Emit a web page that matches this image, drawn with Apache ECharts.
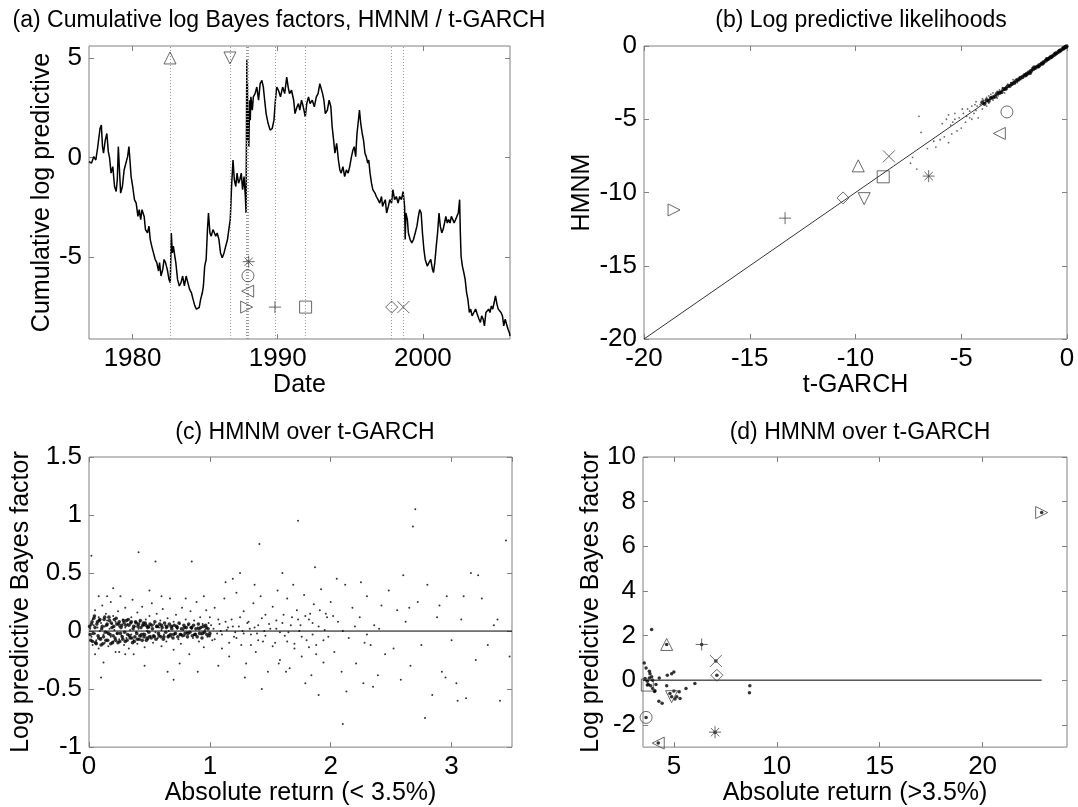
<!DOCTYPE html>
<html lang="en">
  <head>
    <meta charset="utf-8">
    <title>HMNM vs t-GARCH</title>
    <style>
      html, body { margin: 0; padding: 0; background: #fff; }
      #chart { width: 1078px; height: 807px; }
    </style>
  </head>
  <body>
    <div id="chart"></div>

    <script src="https://cdn.jsdelivr.net/npm/echarts@6/dist/echarts.min.js"></script>
    <script>
      // ---- data ----
      // (a) cumulative log Bayes factor over time [year, value]
      var cumLogBF = [
        [1977.00,-0.20],[1977.17,-0.28],[1977.33,0.05],[1977.47,-0.12],[1977.59,0.47],[1977.76,1.46],[1977.85,1.63],[1977.93,0.55],
        [1978.00,0.22],[1978.12,0.88],[1978.23,1.21],[1978.33,0.30],[1978.42,-0.03],[1978.52,-0.78],[1978.64,-0.45],[1978.76,-1.45],
        [1978.87,-1.70],[1978.95,-1.11],[1979.02,0.55],[1979.11,-0.78],[1979.18,-1.78],[1979.30,-1.45],[1979.42,-0.62],[1979.54,-0.28],
        [1979.66,0.05],[1979.75,0.55],[1979.82,-0.12],[1979.90,-0.95],[1980.01,-1.45],[1980.13,-2.11],[1980.25,-2.28],[1980.37,-2.95],
        [1980.46,-2.61],[1980.56,-3.11],[1980.65,-2.61],[1980.80,-2.95],[1980.89,-3.61],[1981.03,-3.78],[1981.13,-3.44],[1981.22,-4.11],
        [1981.32,-4.44],[1981.44,-4.78],[1981.56,-5.11],[1981.67,-5.27],[1981.79,-5.69],[1981.86,-5.27],[1981.96,-5.94],[1982.08,-5.61],
        [1982.17,-5.11],[1982.27,-5.27],[1982.39,-5.61],[1982.51,-6.11],[1982.60,-6.27],[1982.67,-3.78],[1982.74,-4.78],[1982.81,-4.44],
        [1982.91,-4.94],[1982.98,-5.27],[1983.10,-6.11],[1983.22,-6.44],[1983.34,-6.27],[1983.45,-5.94],[1983.57,-6.44],[1983.69,-5.94],
        [1983.81,-6.27],[1983.93,-6.61],[1984.05,-6.77],[1984.17,-7.11],[1984.29,-7.44],[1984.40,-7.60],[1984.52,-7.69],[1984.59,-7.52],
        [1984.69,-7.11],[1984.81,-6.77],[1984.88,-6.44],[1984.97,-5.44],[1985.07,-5.11],[1985.16,-3.61],[1985.23,-2.78],[1985.33,-3.78],
        [1985.42,-3.94],[1985.54,-3.61],[1985.64,-3.78],[1985.73,-3.94],[1985.83,-3.78],[1985.95,-4.11],[1986.06,-4.78],[1986.18,-5.03],
        [1986.30,-4.78],[1986.42,-4.44],[1986.54,-4.11],[1986.63,-3.61],[1986.73,-3.11],[1986.82,-1.45],[1986.92,-0.12],[1987.01,-1.11],
        [1987.11,-1.45],[1987.20,-0.78],[1987.30,-1.28],[1987.39,-1.11],[1987.49,-0.78],[1987.58,-1.61],[1987.68,-0.95],[1987.77,-1.95],
        [1987.82,-2.78],[1987.84,-2.78],[1987.87,4.88],[1987.89,1.21],[1987.91,3.71],[1987.94,0.88],[1987.96,2.38],[1988.01,0.55],
        [1988.06,2.88],[1988.11,1.88],[1988.15,3.05],[1988.25,2.38],[1988.32,3.05],[1988.44,3.21],[1988.56,3.54],[1988.68,2.88],
        [1988.79,3.71],[1988.91,3.88],[1989.01,3.54],[1989.10,2.88],[1989.20,2.21],[1989.34,1.71],[1989.48,1.38],[1989.62,1.46],
        [1989.74,1.88],[1989.84,2.88],[1989.93,3.54],[1990.05,3.38],[1990.19,3.05],[1990.34,3.54],[1990.48,3.21],[1990.62,4.04],
        [1990.72,3.54],[1990.81,3.21],[1990.95,3.38],[1991.10,2.88],[1991.19,2.21],[1991.33,2.55],[1991.43,2.71],[1991.52,2.38],
        [1991.64,2.88],[1991.76,2.55],[1991.90,2.05],[1992.00,2.71],[1992.12,3.05],[1992.23,2.71],[1992.38,2.88],[1992.52,2.55],
        [1992.66,3.05],[1992.78,3.21],[1992.90,3.71],[1992.99,3.79],[1993.09,3.21],[1993.18,2.88],[1993.28,2.21],[1993.42,2.38],
        [1993.54,2.88],[1993.66,2.55],[1993.75,1.55],[1993.85,0.88],[1993.94,0.22],[1994.06,0.72],[1994.18,-0.12],[1994.28,-0.62],
        [1994.37,-0.78],[1994.49,-0.45],[1994.61,-0.95],[1994.73,-0.62],[1994.85,-0.78],[1994.96,-0.45],[1995.08,0.05],[1995.18,0.38],
        [1995.27,0.55],[1995.37,0.05],[1995.46,1.21],[1995.56,1.88],[1995.63,2.38],[1995.72,1.71],[1995.82,1.21],[1995.91,0.88],
        [1996.01,0.22],[1996.10,0.05],[1996.20,-0.28],[1996.27,-0.12],[1996.36,-0.78],[1996.46,-1.28],[1996.55,-1.61],[1996.70,-1.78],
        [1996.79,-1.95],[1996.91,-2.11],[1997.03,-2.28],[1997.15,-1.95],[1997.22,-2.45],[1997.31,-2.28],[1997.41,-2.11],[1997.50,-2.78],
        [1997.62,-2.45],[1997.72,-2.11],[1997.84,-2.28],[1997.93,-1.61],[1998.05,-2.11],[1998.17,-1.95],[1998.29,-2.28],[1998.40,-1.95],
        [1998.52,-2.11],[1998.64,-1.70],[1998.74,-2.45],[1998.78,-4.11],[1998.83,-2.78],[1998.93,-3.11],[1999.00,-3.78],[1999.12,-4.11],
        [1999.24,-4.28],[1999.35,-4.11],[1999.47,-3.78],[1999.59,-3.44],[1999.69,-2.95],[1999.78,-2.61],[1999.88,-2.78],[1999.97,-3.78],
        [2000.07,-4.61],[2000.16,-5.11],[2000.30,-5.44],[2000.42,-5.27],[2000.54,-5.11],[2000.66,-5.61],[2000.73,-5.77],[2000.82,-5.27],
        [2000.92,-4.44],[2001.01,-3.78],[2001.11,-2.78],[2001.20,-3.44],[2001.30,-3.78],[2001.39,-3.61],[2001.49,-3.28],[2001.58,-2.95],
        [2001.68,-3.28],[2001.77,-3.11],[2001.87,-3.28],[2001.96,-2.95],[2002.06,-3.11],[2002.15,-3.28],[2002.25,-3.11],[2002.34,-2.95],
        [2002.44,-2.78],[2002.53,-2.11],[2002.58,-3.78],[2002.63,-4.94],[2002.72,-5.44],[2002.82,-5.77],[2002.91,-6.11],[2003.01,-6.77],
        [2003.10,-7.11],[2003.20,-7.77],[2003.29,-7.60],[2003.39,-7.94],[2003.51,-7.77],[2003.63,-7.60],[2003.74,-7.85],[2003.86,-8.10],
        [2003.96,-8.27],[2004.05,-7.94],[2004.15,-8.10],[2004.24,-8.44],[2004.34,-7.77],[2004.43,-7.85],[2004.53,-7.60],[2004.62,-7.77],
        [2004.72,-7.44],[2004.81,-7.60],[2004.91,-7.27],[2005.00,-6.94],[2005.10,-7.35],[2005.19,-7.60],[2005.29,-7.69],[2005.38,-7.77],
        [2005.48,-7.94],[2005.57,-8.44],[2005.67,-8.10],[2005.76,-8.35],[2005.86,-8.60],[2005.95,-8.77],[2006.00,-8.94]
      ];

      // marked events, same order in every array:
      // up, down, right, left, circle, star, plus, square, diamond, cross
      var eventDates  = [1982.58, 1986.71, 1987.86, 1987.93, 1987.95, 1988.00, 1989.81, 1991.92, 1997.85, 1998.65];
      var eventLevels = [5, 5, -7.5, -6.7, -5.93, -5.22, -7.5, -7.5, -7.5, -7.5];
      var eventTGarch = [-9.87, -9.59, -18.58, -3.20, -2.84, -6.54, -13.33, -8.69, -10.59, -8.42];
      var eventHmnm   = [-8.18, -10.42, -11.19, -5.97, -4.50, -8.88, -11.75, -8.93, -10.37, -7.53];
      var eventAbsRet = [4.65, 4.89, 22.87, 4.24, 3.65, 7.00, 6.35, 3.71, 7.09, 7.04];
      var eventLogBF  = [1.60, -0.74, 7.51, -2.82, -1.67, -2.33, 1.60, -0.22, 0.22, 0.86];

      // (b) log predictive likelihoods [t-GARCH, HMNM]: scattered part and the tight band
      var logLikCloud = [
        [-7.0,-4.8],[-6.9,-5.9],[-7.3,-7.6],[-7.4,-8.0],[-7.1,-8.4],[-6.6,-7.0],[-6.3,-6.5],[-6.0,-6.4],[-5.8,-6.2],[-5.6,-6.6],
        [-5.7,-5.0],[-5.6,-4.7],[-5.5,-5.4],[-5.4,-5.2],[-5.3,-4.6],[-5.2,-5.8],[-5.1,-4.9],[-5.0,-5.6],[-4.9,-4.6],[-4.8,-5.2],
        [-4.7,-4.3],[-4.6,-4.9],[-4.5,-4.1],[-4.5,-5.0],[-4.4,-4.6],[-4.3,-3.8],[-4.3,-4.4],[-4.2,-4.9],[-4.1,-4.0],[-4.0,-3.6],
        [-4.0,-4.3],[-3.9,-3.9],[-3.8,-3.5],[-3.8,-4.1],[-3.7,-3.4],[-3.7,-3.9],[-3.6,-3.5],[-3.5,-3.2],[-3.5,-3.7],[-3.4,-3.3],
        [-5.9,-5.3],[-5.3,-5.0],[-4.95,-4.3],[-4.6,-4.45],[-4.25,-4.1],[-3.95,-3.7],[-6.2,-6.9],[-5.45,-6.0],[-4.75,-4.8],[-4.35,-4.0],
        [-3.3,-3.1],[-3.25,-3.4],[-3.2,-3.0],[-3.1,-3.2],[-3.05,-2.85],[-3.0,-3.0],[-2.9,-2.8],[-2.85,-2.95],[-2.8,-2.6],[-2.7,-2.7],
        [-2.65,-2.5],[-2.6,-2.65],[-2.5,-2.4],[-2.45,-2.55],[-2.4,-2.25],[-2.3,-2.35],[-2.25,-2.15],[-2.2,-2.3],[-2.1,-2.0],[-2.05,-2.1],
        [-3.6,-3.3],[-3.3,-3.55],[-2.95,-3.2],[-2.55,-2.3],[-2.35,-2.5],[-1.85,-1.95],[-1.65,-1.5],[-1.25,-1.3],[-0.85,-0.82]
      ];
      var logLikBand = [
        [-4.0,-3.85],[-3.9,-3.95],[-3.8,-3.7],[-3.7,-3.75],[-3.6,-3.55],[-3.5,-3.5],[-3.4,-3.45],[-3.3,-3.25],[-3.2,-3.2],[-3.1,-3.15],
        [-3.0,-2.95],[-2.9,-2.92],[-2.8,-2.75],[-2.7,-2.72],[-2.6,-2.58],[-2.5,-2.52],[-2.4,-2.38],[-2.3,-2.3],[-2.2,-2.18],[-2.1,-2.12],
        [-2.0,-1.98],[-1.95,-2.0],[-1.9,-1.9],[-1.8,-1.8],[-1.75,-1.85],[-1.7,-1.7],[-1.6,-1.58],[-1.55,-1.45],[-1.5,-1.5],[-1.4,-1.4],
        [-1.35,-1.4],[-1.3,-1.3],[-1.2,-1.2],[-1.15,-1.2],[-1.1,-1.1],[-1.0,-1.0],[-0.95,-0.9],[-0.9,-0.9],[-0.8,-0.8],[-0.75,-0.75],
        [-0.7,-0.7],[-0.6,-0.6],[-0.55,-0.52],[-0.5,-0.5],[-0.4,-0.4],[-0.35,-0.33],[-0.3,-0.3],[-0.2,-0.2],[-0.15,-0.14],[-0.1,-0.1],
        [-0.05,-0.05],[-0.02,-0.02]
      ];

      // (c) log predictive Bayes factor vs absolute return below 3.5%: spread points and the dense core
      var smallRetBF = [
        [0.01,0.02],[0.02,-0.05],[0.03,0.1],[0.03,-0.12],[0.04,0.05],[0.05,-0.02],[0.05,0.18],[0.06,-0.08],[0.07,0.03],[0.08,0.12],
        [0.08,-0.15],[0.09,0.0],[0.1,0.07],[0.1,-0.06],[0.11,0.22],[0.12,-0.03],[0.13,0.04],[0.13,-0.1],[0.14,0.15],[0.15,-0.01],
        [0.15,0.09],[0.16,-0.13],[0.17,0.02],[0.18,0.25],[0.18,-0.05],[0.19,0.06],[0.2,-0.09],[0.2,0.13],[0.21,0.01],[0.22,-0.18],
        [0.22,0.08],[0.23,-0.02],[0.24,0.17],[0.25,0.04],[0.25,-0.07],[0.26,0.3],[0.27,-0.04],[0.28,0.1],[0.29,-0.12],[0.3,0.03],
        [0.3,0.2],[0.31,-0.06],[0.32,0.06],[0.33,-0.15],[0.34,0.01],[0.35,0.12],[0.35,-0.03],[0.36,0.27],[0.37,-0.08],[0.38,0.04],
        [0.39,-0.01],[0.4,0.16],[0.4,-0.11],[0.41,0.02],[0.42,0.08],[0.43,-0.05],[0.44,0.21],[0.45,-0.02],[0.45,0.05],[0.46,-0.14],
        [0.47,0.1],[0.48,0.0],[0.49,-0.07],[0.5,0.13],[0.5,0.03],[0.51,-0.04],[0.52,0.24],[0.53,-0.1],[0.54,0.06],[0.55,-0.01],
        [0.56,0.15],[0.57,-0.06],[0.58,0.03],[0.59,0.09],[0.6,-0.13],[0.6,0.01],[0.61,0.19],[0.62,-0.03],[0.63,0.05],[0.64,-0.09],
        [0.65,0.11],[0.66,0.0],[0.67,0.28],[0.68,-0.05],[0.69,0.04],[0.7,-0.16],[0.7,0.08],[0.71,-0.02],[0.72,0.14],[0.73,0.02],
        [0.74,-0.07],[0.75,0.06],[0.76,-0.11],[0.77,0.2],[0.78,0.01],[0.79,-0.04],[0.8,0.1],[0.81,-0.01],[0.82,0.05],[0.83,-0.2],
        [0.84,0.17],[0.85,0.02],[0.86,-0.06],[0.87,0.09],[0.88,-0.02],[0.89,0.25],[0.9,0.03],[0.91,-0.09],[0.92,0.12],[0.93,-0.03],
        [0.94,0.06],[0.95,-0.14],[0.96,0.01],[0.97,0.18],[0.98,-0.05],[0.99,0.07],
        [0.02,0.65],[0.12,-0.27],[0.2,0.37],[0.25,-0.18],[0.37,-0.2],[0.41,0.68],[0.46,-0.3],[0.55,0.6],[0.3,-0.2],[0.6,0.3],
        [0.65,-0.35],[0.8,0.28],[0.75,-0.28],[0.9,-0.35],[0.95,0.3],[0.85,0.6],[0.5,0.35],[0.15,0.3],[0.05,-0.2],[0.1,-0.4],
        [0.7,-0.42],[0.08,0.3],
        [1.0,0.12],[1.02,-0.08],[1.04,0.2],[1.06,-0.02],[1.08,0.06],[1.1,-0.15],[1.12,0.28],[1.14,0.01],[1.16,-0.22],[1.18,0.1],
        [1.2,-0.05],[1.22,0.33],[1.24,0.04],[1.26,-0.12],[1.28,0.17],[1.3,-0.28],[1.32,0.08],[1.34,-0.03],[1.36,0.24],[1.38,-0.18],
        [1.4,0.05],[1.42,0.3],[1.44,-0.09],[1.46,0.14],[1.48,-0.35],[1.5,0.02],[1.03,0.02],[1.09,0.0],[1.15,0.03],[1.21,-0.01],
        [1.27,0.0],[1.33,0.02],[1.39,-0.02],[1.45,0.0],[1.07,-0.3],[1.19,0.45],[1.13,0.42],[1.29,-0.4],[1.37,0.4],[1.43,-0.5],
        [1.25,0.5],[1.41,0.75],
        [1.52,0.21],[1.54,-0.1],[1.56,0.35],[1.58,-0.25],[1.6,0.07],[1.62,-0.04],[1.64,0.28],[1.66,-0.32],[1.68,0.12],[1.7,-0.15],
        [1.72,0.18],[1.74,0.0],[1.76,-0.22],[1.78,0.31],[1.8,-0.08],[1.82,0.1],[1.84,-0.38],[1.86,0.23],[1.88,-0.12],[1.9,0.04],
        [1.92,0.36],[1.94,-0.27],[1.96,0.15],[1.98,-0.05],[1.55,0.02],[1.65,-0.01],[1.75,0.05],[1.85,-0.03],[1.95,0.01],[1.6,0.5],
        [1.73,0.95],[1.63,-0.35],[1.87,0.55],[1.79,-0.45],[1.57,-0.28],[1.9,-0.55],[1.69,0.4],[1.83,0.15],
        [2.0,0.25],[2.03,-0.18],[2.06,0.08],[2.09,-0.35],[2.12,0.4],[2.15,-0.06],[2.18,0.2],[2.21,-0.28],[2.24,0.12],[2.27,-0.45],
        [2.3,0.3],[2.33,-0.12],[2.36,0.05],[2.39,-0.38],[2.42,0.22],[2.45,-0.2],[2.48,0.35],[2.1,0.0],[2.2,0.04],[2.3,-0.03],
        [2.4,0.02],[2.05,0.45],[2.13,-0.52],[2.25,0.42],[2.35,-0.48],[2.1,-0.8],[2.28,-0.1],[2.02,0.13],
        [2.52,-0.15],[2.55,0.18],[2.58,-0.42],[2.62,0.08],[2.66,-0.3],[2.7,1.05],[2.72,0.25],[2.75,-0.12],[2.8,0.4],[2.84,-0.55],
        [2.88,0.12],[2.92,-0.35],[2.96,0.3],[3.0,-0.08],[3.04,-0.45],[3.08,0.1],[3.12,-0.58],[3.16,0.5],[3.2,-0.25],[3.25,0.28],
        [3.3,-0.12],[3.35,0.05],[3.4,-0.6],[3.45,0.78],[3.48,-0.22],[2.6,0.48],[2.78,-0.75],[2.9,0.22],[3.05,-0.6],[3.22,0.48],
        [2.68,0.9],[2.95,-0.4],[3.1,0.3],[2.65,0.2],[3.38,0.1],
        [1.01,0.05],[1.04,-0.07],[1.07,0.1],[1.1,-0.03],[1.13,0.08],[1.16,-0.1],[1.19,0.04],[1.22,-0.06],[1.25,0.12],[1.28,-0.02],
        [1.31,0.07],[1.34,-0.12],[1.37,0.03],[1.4,-0.08],[1.43,0.11],[1.46,-0.04],[1.49,0.06],[1.52,-0.13],[1.55,0.09],[1.58,-0.01],
        [1.61,0.14],[1.64,-0.09],[1.67,0.05],[1.7,-0.11],[1.73,0.1],[1.76,-0.05],[1.79,0.13],[1.82,-0.14],[1.85,0.07],[1.88,-0.2],
        [1.91,0.18],[1.94,-0.08],[1.97,0.12]
      ];
      var smallRetCore = [
        [0.005,0.04],[0.015,-0.08],[0.025,0.08],[0.035,-0.02],[0.045,0.13],[0.055,-0.1],[0.065,0.06],[0.075,-0.04],[0.085,0.09],[0.095,-0.07],
        [0.105,0.02],[0.115,-0.11],[0.125,0.1],[0.135,-0.01],[0.145,0.05],[0.155,-0.08],[0.165,0.12],[0.175,-0.03],[0.185,0.07],[0.195,-0.1],
        [0.205,0.04],[0.215,-0.06],[0.225,0.11],[0.235,-0.02],[0.245,0.06],[0.255,-0.09],[0.265,0.03],[0.275,-0.05],[0.285,0.09],[0.295,-0.01],
        [0.305,0.05],[0.315,-0.08],[0.325,0.1],[0.335,-0.04],[0.345,0.07],[0.355,-0.06],[0.365,0.02],[0.375,-0.09],[0.385,0.08],[0.395,-0.02],
        [0.405,0.04],[0.415,-0.07],[0.425,0.09],[0.435,-0.03],[0.445,0.05],[0.455,-0.05],[0.465,0.07],[0.475,-0.08],[0.485,0.03],[0.495,-0.01],
        [0.505,0.06],[0.515,-0.06],[0.525,0.02],[0.535,-0.04],[0.545,0.08],[0.555,-0.07],[0.565,0.04],[0.575,-0.02],[0.585,0.06],[0.595,-0.05],
        [0.605,0.03],[0.615,-0.07],[0.625,0.07],[0.635,-0.01],[0.645,0.04],[0.655,-0.05],[0.665,0.06],[0.675,-0.03],[0.685,0.02],[0.695,-0.06],
        [0.705,0.05],[0.715,-0.02],[0.725,0.04],[0.735,-0.05],[0.745,0.07],[0.755,-0.03],[0.765,0.02],[0.775,-0.04],[0.785,0.05],[0.795,-0.02],
        [0.805,0.03],[0.815,-0.05],[0.825,0.06],[0.835,-0.01],[0.845,0.03],[0.855,-0.04],[0.865,0.05],[0.875,-0.03],[0.885,0.02],[0.895,-0.05],
        [0.905,0.06],[0.915,-0.02],[0.925,0.03],[0.935,-0.06],[0.945,0.04],[0.955,-0.01],[0.965,0.05],[0.975,-0.03],[0.985,0.02],[0.995,-0.04],
        [0.01,-0.03],[0.02,0.06],[0.03,-0.09],[0.04,0.11],[0.05,0.03],[0.06,-0.11],[0.07,0.08],[0.08,-0.06],[0.09,0.1],[0.1,-0.12],
        [0.11,0.04],[0.12,-0.05],[0.13,0.12],[0.14,-0.08],[0.15,0.06],[0.16,-0.02],[0.17,0.09],[0.18,-0.11],[0.19,0.03],[0.2,-0.04],
        [0.21,0.1],[0.22,-0.08],[0.23,0.06],[0.24,-0.1],[0.25,0.08],[0.26,-0.02],[0.27,0.05],[0.28,-0.07],[0.29,0.07],[0.3,-0.09],
        [0.31,0.09],[0.32,-0.03],[0.33,0.05],[0.34,-0.06],[0.35,0.08],[0.36,-0.1],[0.37,0.04],[0.38,-0.05],[0.39,0.07],[0.4,-0.07],
        [0.41,0.06],[0.42,-0.04],[0.43,0.03],[0.44,-0.08],[0.45,0.07],[0.46,-0.03],[0.47,0.05],[0.48,-0.06],[0.49,0.04],[0.5,-0.05],
        [0.52,0.05],[0.54,-0.05],[0.56,0.04],[0.58,-0.04],[0.6,0.05],[0.62,-0.05],[0.64,0.03],[0.66,-0.04],[0.68,0.04],[0.7,-0.03],
        [0.73,0.03],[0.76,-0.03],[0.79,0.03],[0.82,-0.02],[0.85,0.03],[0.88,-0.03],[0.91,0.02],[0.94,-0.02],[0.97,0.03],[1.0,-0.02]
      ];

      // (d) log predictive Bayes factor vs absolute return above 3.5%
      var bigRetBF = [
        [3.92,2.27],[3.56,0.77],[3.65,0.55],[3.81,0.40],[3.84,0.29],[3.60,0.07],[3.71,-0.05],[3.81,0.10],[3.92,0.15],[3.97,0.0],
        [3.76,-0.20],[3.87,-0.25],[3.97,-0.37],[4.08,-0.48],[4.13,-0.20],[4.29,0.10],[4.68,0.22],[4.89,0.29],[5.00,0.37],[4.65,-0.25],
        [4.81,-0.60],[5.00,-0.49],[5.14,-0.74],[5.26,-0.52],[5.05,-0.85],[5.30,-0.82],[5.59,-0.37],[6.02,-0.15],[4.27,-0.94],[4.43,-1.04],
        [8.69,-0.25],[8.67,-0.57],[4.06,-0.51]
      ];

      var axisRanges = {
        a: { x: [1977, 2006], y: [-9.1, 5.6] },
        b: { x: [-20, 0], y: [-20, 0] },
        c: { x: [0, 3.5], y: [-1, 1.5] },
        d: { x: [3.5, 24.1], y: [-3, 10] }
      };
      var ticksA = { x: [1980, 1990, 2000], y: [-5, 0, 5] };
      var ticksD = { x: [5, 10, 15, 20], y: [-2, 0, 2, 4, 6, 8, 10] };

      // ---- styling helpers ----
      var FONT = '"Liberation Sans", Arial, Helvetica, sans-serif';
      var BOX = '#808080';

      var eventSymbols = [
        { symbol: 'triangle', rotate: 0 },
        { symbol: 'triangle', rotate: 180 },
        { symbol: 'triangle', rotate: -90 },
        { symbol: 'triangle', rotate: 90 },
        { symbol: 'circle', rotate: 0 },
        { symbol: 'path://M5,0L5,10M0,5L10,5M1.5,1.5L8.5,8.5M1.5,8.5L8.5,1.5', rotate: 0 },
        { symbol: 'path://M5,0L5,10M0,5L10,5', rotate: 0 },
        { symbol: 'rect', rotate: 0 },
        { symbol: 'diamond', rotate: 0 },
        { symbol: 'path://M0,0L10,10M0,10L10,0', rotate: 0 }
      ];

      function baseAxis(grid, range, name, gap, custom) {
        var ax = {
          type: 'value', gridIndex: grid, min: range[0], max: range[1],
          name: name, nameLocation: 'middle', nameGap: gap,
          nameTextStyle: { color: '#000', fontSize: 25, fontFamily: FONT },
          axisLine: { show: false, onZero: false },
          axisTick: { show: true, inside: true, length: 5, lineStyle: { color: BOX } },
          axisLabel: { color: '#000', fontSize: 26, fontFamily: FONT, margin: 7, showMinLabel: true, showMaxLabel: true },
          splitLine: { show: false }
        };
        if (custom) {
          ax.axisTick.customValues = custom;
          ax.axisLabel.customValues = custom;
        }
        return ax;
      }
      // mirrored tick marks on top / right like the matlab box
      function mirror(ax, pos) {
        var m = JSON.parse(JSON.stringify(ax));
        m.position = pos;
        m.name = '';
        m.axisLabel.show = false;
        return m;
      }

      var xAxes = [
        baseAxis(0, axisRanges.a.x, 'Date', 31, ticksA.x),
        baseAxis(1, axisRanges.b.x, 't-GARCH', 31, null),
        baseAxis(2, axisRanges.c.x, 'Absolute return (< 3.5%)', 31, null),
        baseAxis(3, axisRanges.d.x, 'Absolute return (>3.5%)', 31, ticksD.x)
      ];
      xAxes[0].axisLabel.formatter = function (v) { return String(v); };
      xAxes[1].interval = 5;
      xAxes[2].interval = 1;
      xAxes[2].axisLabel.showMaxLabel = false;
      var yAxes = [
        baseAxis(0, axisRanges.a.y, 'Cumulative log predictive', 33, ticksA.y),
        baseAxis(1, axisRanges.b.y, 'HMNM', 49, null),
        baseAxis(2, axisRanges.c.y, 'Log predictive Bayes factor', 50, null),
        baseAxis(3, axisRanges.d.y, 'Log predictive Bayes factor', 34, ticksD.y)
      ];
      yAxes[1].interval = 5;
      yAxes[2].interval = 0.5;
      for (var i = 0; i < 4; i++) {
        xAxes.push(mirror(xAxes[i], 'top'));
        yAxes.push(mirror(yAxes[i], 'right'));
      }

      function eventSeries(grid, xs, ys, size, color) {
        return eventSymbols.map(function (s, k) {
          return {
            type: 'scatter', xAxisIndex: grid, yAxisIndex: grid,
            data: [[xs[k], ys[k]]],
            symbol: s.symbol, symbolRotate: s.rotate, symbolSize: size,
            itemStyle: { color: 'none', borderColor: color, borderWidth: 1 },
            silent: true, z: 5
          };
        });
      }
      function dots(grid, data, size, color) {
        return {
          type: 'scatter', xAxisIndex: grid, yAxisIndex: grid, data: data,
          symbolSize: size, itemStyle: { color: color || '#000' }, silent: true
        };
      }
      function segment(grid, data, width) {
        return {
          type: 'line', xAxisIndex: grid, yAxisIndex: grid, data: data, z: 4,
          showSymbol: false, symbol: 'none', lineStyle: { color: '#000', width: width }
        };
      }

      var series = [];
      // (a)
      series.push({
        type: 'line', xAxisIndex: 0, yAxisIndex: 0, data: cumLogBF,
        showSymbol: false, symbol: 'none',
        lineStyle: { color: '#000', width: 1.5 },
        markLine: {
          silent: true, symbol: ['none', 'none'], label: { show: false },
          lineStyle: { color: '#999', type: [1, 2], width: 1 },
          data: eventDates.map(function (d) { return { xAxis: d }; })
        }
      });
      series = series.concat(eventSeries(0, eventDates, eventLevels, 12, '#444'));
      // (b)
      series.push(segment(1, [[axisRanges.b.x[0], axisRanges.b.y[0]], [axisRanges.b.x[1], axisRanges.b.y[1]]], 0.8));
      series.push(dots(1, logLikCloud, 1.8, '#444'));
      series.push(dots(1, logLikBand, 4.2));
      series = series.concat(eventSeries(1, eventTGarch, eventHmnm, 12, '#444'));
      // (c)
      series.push(segment(2, [[axisRanges.c.x[0], 0], [axisRanges.c.x[1], 0]], 1));
      series.push(dots(2, smallRetBF, 2));
      series.push(dots(2, smallRetCore, 3.6));
      // (d)
      series.push(segment(3, [[axisRanges.d.x[0], 0], [eventAbsRet[2], 0]], 1));
      series.push(dots(3, bigRetBF.concat(eventAbsRet.map(function (v, k) { return [v, eventLogBF[k]]; })), 3.5));
      series = series.concat(eventSeries(3, eventAbsRet, eventLogBF, 12, '#444'));

      var gridBox = { show: true, borderColor: BOX, borderWidth: 1, backgroundColor: '#fff' };
      function grid(l, t, w, h) {
        return Object.assign({ left: l, top: t, width: w, height: h }, gridBox);
      }
      function title(text, cx, top) {
        return { text: text, left: cx, top: top, textAlign: 'center',
          textStyle: { color: '#000', fontSize: 23, fontWeight: 'normal', fontFamily: FONT } };
      }

      var myChart = echarts.init(document.getElementById('chart'), null, { renderer: 'canvas' });
      myChart.setOption({
        backgroundColor: '#fff',
        animation: false,
        title: [
          title('(a) Cumulative log Bayes factors, HMNM / t-GARCH', 274, 4),
          title('(b) Log predictive likelihoods', 856, 4),
          title('(c) HMNM over t-GARCH', 300, 416),
          title('(d) HMNM over t-GARCH', 855, 416)
        ],
        grid: [
          grid(89, 46, 421, 293),
          grid(644, 46, 423, 293),
          grid(89, 457, 423, 292),
          grid(643, 457, 424, 292)
        ],
        xAxis: xAxes,
        yAxis: yAxes,
        series: series
      });
    </script>
  </body>
</html>
